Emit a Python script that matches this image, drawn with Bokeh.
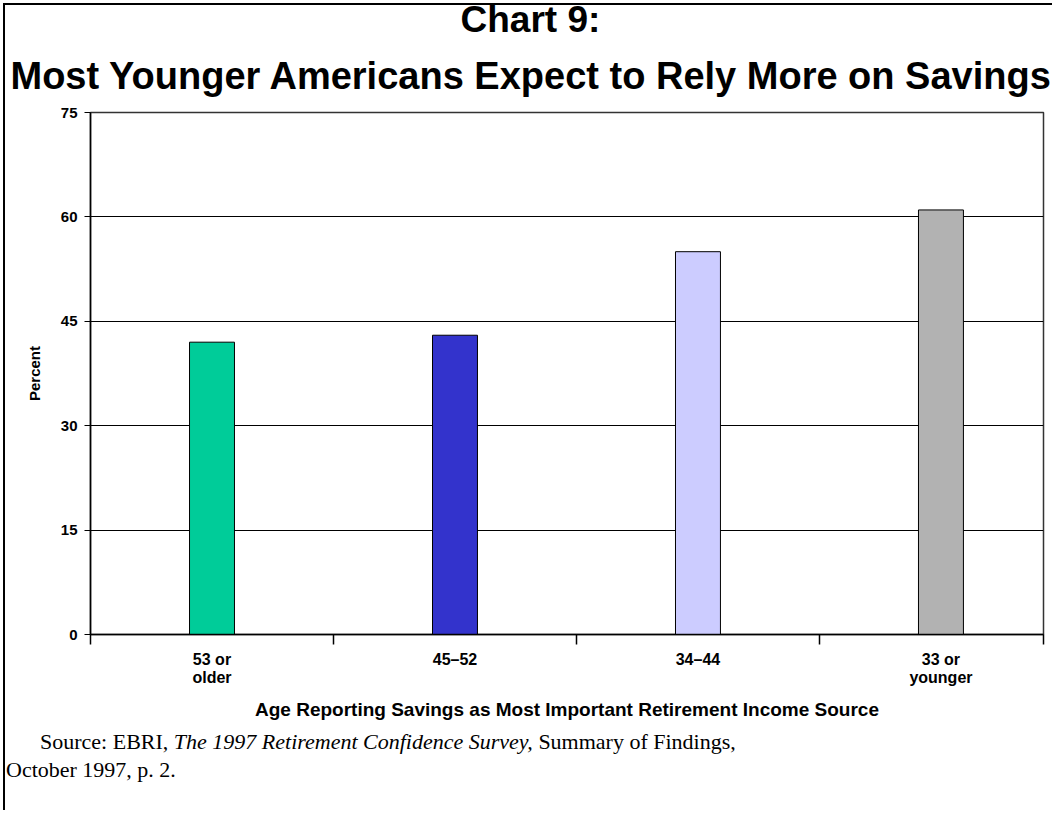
from bokeh.plotting import figure
from bokeh.models import FixedTicker, Title, Range1d, ColumnDataSource, Div
from bokeh.layouts import column
from bokeh.embed import file_html
from bokeh.resources import INLINE

# ---- data ----
categories = ["53 or\nolder", "45–52", "34–44", "33 or\nyounger"]
values = [42, 43, 55, 61]
colors = ["#00CC99", "#3333CC", "#CCCCFF", "#B2B2B2"]
y_ticks = [0, 15, 30, 45, 60, 75]

title_line1 = "Chart 9:"
title_line2 = "Most Younger Americans Expect to Rely More on Savings"
x_title = "Age Reporting Savings as Most Important Retirement Income Source"
y_title = "Percent"
source_parts = ["Source: EBRI, ", "The 1997 Retirement Confidence Survey,", " Summary of Findings,"]
source_line2 = "October 1997, p. 2."

# ---- layout ----
xs = [i + 0.5 for i in range(len(categories))]
x_end = 3.922
SANS = "Liberation Sans"

src = ColumnDataSource(dict(x=xs, top=values, color=colors))

p = figure(width=1052, height=728, output_backend="svg", toolbar_location=None,
           x_range=Range1d(0, x_end), y_range=Range1d(0, 75),
           min_border_left=90, min_border_right=9, min_border_top=112,
           min_border_bottom=94)
p.styles = {"background-color": "white",
            "box-shadow": "inset 3px 3px 0 0 white, inset 5px 5px 0 0 black"}
p.border_fill_alpha = 0

p.vbar(x="x", top="top", width=0.185, fill_color="color", line_color="black",
       line_width=1, source=src)

# titles (left aligned with pixel offsets from the frame's left edge)
t2 = Title(text=title_line2, align="left", offset=-80, text_font=SANS,
           text_font_size="38px", text_font_style="bold", text_color="black",
           standoff=32)
t1 = Title(text=title_line1, align="left", offset=370, text_font=SANS,
           text_font_size="37px", text_font_style="bold", text_color="black",
           standoff=-7)
p.add_layout(t2, "above")
p.add_layout(t1, "above")

p.outline_line_color = "#333333"
p.outline_line_width = 1.5

# y axis
p.yaxis.ticker = FixedTicker(ticks=y_ticks)
p.yaxis.major_tick_out = 6
p.yaxis.major_tick_in = 0
p.yaxis.minor_tick_out = 0
p.yaxis.minor_tick_in = 0
p.yaxis.axis_line_color = "black"
p.yaxis.axis_line_width = 1.5
p.yaxis.major_label_text_font = SANS
p.yaxis.major_label_text_font_style = "bold"
p.yaxis.major_label_text_font_size = "15px"
p.yaxis.major_label_text_color = "black"
p.yaxis.major_label_standoff = 7
p.yaxis.axis_label = y_title
p.yaxis.axis_label_text_font = SANS
p.yaxis.axis_label_text_font_style = "bold"
p.yaxis.axis_label_text_font_size = "15px"
p.yaxis.axis_label_text_color = "black"
p.yaxis.axis_label_standoff = 15

# x axis
p.xaxis.ticker = FixedTicker(ticks=xs, minor_ticks=[0, 1, 2, 3, x_end])
p.xaxis.major_label_overrides = {x: c for x, c in zip(xs, categories)}
p.xaxis.major_tick_out = 0
p.xaxis.major_tick_in = 0
p.xaxis.minor_tick_out = 10
p.xaxis.minor_tick_in = 0
p.xaxis.minor_tick_line_color = "black"
p.xaxis.minor_tick_line_width = 1.5
p.xaxis.axis_line_color = "black"
p.xaxis.axis_line_width = 1.5
p.xaxis.major_label_text_font = SANS
p.xaxis.major_label_text_font_style = "bold"
p.xaxis.major_label_text_font_size = "16px"
p.xaxis.major_label_text_line_height = 1.1
p.xaxis.major_label_text_color = "black"
p.xaxis.major_label_standoff = 6
p.xaxis.axis_label = x_title
p.xaxis.axis_label_text_font = SANS
p.xaxis.axis_label_text_font_style = "bold"
p.xaxis.axis_label_text_font_size = "19px"
p.xaxis.axis_label_text_color = "black"
p.xaxis.axis_label_standoff = 10

# grid
p.xgrid.visible = False
p.ygrid.ticker = FixedTicker(ticks=y_ticks)
p.ygrid.grid_line_color = "black"
p.ygrid.grid_line_width = 1

p.background_fill_color = "white"

# source note
note_html = (
    '<div style="font-family:\'Liberation Serif\',serif; font-size:22px; '
    'line-height:28px; color:black; padding-left:6px; text-indent:34px; '
    'white-space:nowrap; margin:0;">'
    f'{source_parts[0]}<i>{source_parts[1]}</i>{source_parts[2]}<br>'
    f'{source_line2}</div>'
)
note = Div(text=note_html, width=1052, height=82, margin=0,
           styles={"background-color": "white",
                   "box-shadow": "inset 3px 0 0 0 white, inset 5px 0 0 0 black"})

layout = column(p, note, spacing=0)

open("out.html", "w").write(file_html(layout, INLINE))
